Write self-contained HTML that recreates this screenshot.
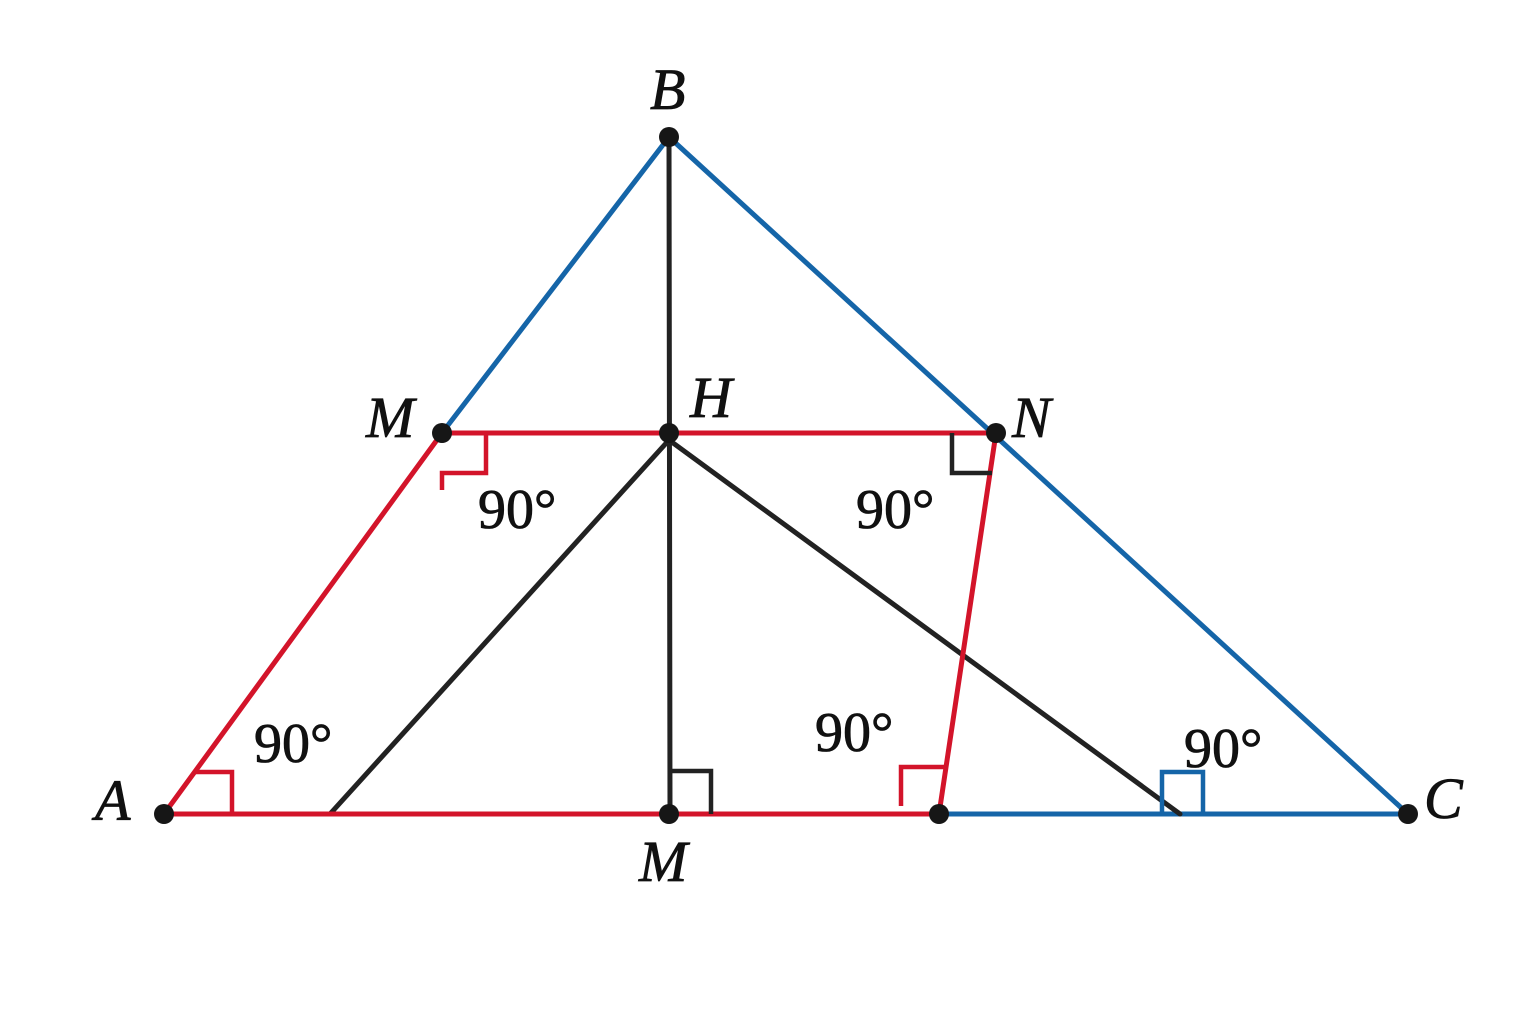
<!DOCTYPE html>
<html><head><meta charset="utf-8"><style>
html,body{margin:0;padding:0;background:#fff;}
svg{display:block;}
text{font-family:"Liberation Serif",serif;fill:#111;stroke:#111;stroke-width:0.8px;}
.it{font-style:italic;font-size:58px;}
.d{font-size:56px;}
</style></head><body>
<svg width="1536" height="1024" viewBox="0 0 1536 1024">
<g fill="none" stroke-width="5" stroke-linecap="round">
<line x1="669" y1="137" x2="442" y2="433" stroke="#1565a8"/>
<line x1="669" y1="137" x2="1408" y2="814" stroke="#1565a8"/>
<line x1="939" y1="814" x2="1408" y2="814" stroke="#1565a8"/>
<line x1="669" y1="137" x2="670" y2="814" stroke="#222"/>
<line x1="669" y1="440" x2="330" y2="814" stroke="#222"/>
<line x1="669" y1="440" x2="1180" y2="814" stroke="#222"/>
<line x1="442" y1="433" x2="996" y2="433" stroke="#d3142a"/>
<line x1="442" y1="433" x2="164" y2="814" stroke="#d3142a"/>
<line x1="164" y1="814" x2="939" y2="814" stroke="#d3142a"/>
<line x1="996" y1="433" x2="939" y2="814" stroke="#d3142a"/>
<polyline points="446,433 486,433 486,473 442,473 442,490" stroke="#d3142a" stroke-width="4.5" stroke-linecap="butt"/>
<polyline points="952,433 952,473 992,473" stroke="#222" stroke-width="4.5" stroke-linecap="butt"/>
<polyline points="196,772 232,772 232,814" stroke="#d3142a" stroke-width="4.5" stroke-linecap="butt"/>
<polyline points="672,771 711,771 711,814" stroke="#222" stroke-width="4.5" stroke-linecap="butt"/>
<polyline points="901,806 901,767 944,767" stroke="#d3142a" stroke-width="4.5" stroke-linecap="butt"/>
<polyline points="1162,814 1162,772 1203,772 1203,814" stroke="#1565a8" stroke-width="4.5" stroke-linecap="butt"/>
</g>
<g fill="#161616">
<circle cx="669" cy="137" r="10"/>
<circle cx="442" cy="433" r="10"/>
<circle cx="669" cy="433" r="10"/>
<circle cx="996" cy="433" r="10"/>
<circle cx="164" cy="814" r="10"/>
<circle cx="669" cy="814" r="10"/>
<circle cx="939" cy="814" r="10"/>
<circle cx="1408" cy="814" r="10"/>
</g>
<text class="it" x="650" y="109">B</text>
<text class="it" x="366" y="437">M</text>
<text class="it" x="690" y="417">H</text>
<text class="it" x="1012" y="437">N</text>
<text class="it" x="95" y="820">A</text>
<text class="it" x="639" y="881">M</text>
<text class="it" x="1424" y="818">C</text>
<text class="d" x="478" y="528">90°</text>
<text class="d" x="856" y="528">90°</text>
<text class="d" x="254" y="762">90°</text>
<text class="d" x="815" y="751">90°</text>
<text class="d" x="1184" y="767">90°</text>
</svg>
</body></html>
